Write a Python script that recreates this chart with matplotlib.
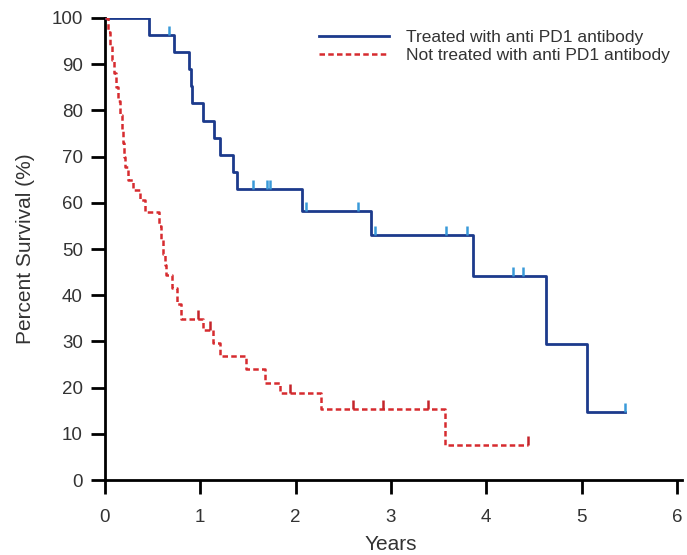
import numpy as np
import matplotlib.pyplot as plt

plt.rcParams['font.family'] = ['Liberation Sans', 'DejaVu Sans']

# Kaplan-Meier steps (years, survival % after the drop)
treated_t = [0, 0.46, 0.72, 0.88, 0.90, 0.91, 1.03, 1.14, 1.21, 1.34, 1.38,
             2.07, 2.79, 3.86, 4.63, 5.06, 5.45]
treated_s = [100, 96.3, 92.6, 88.9, 85.2, 81.5, 77.8, 74.1, 70.4, 66.7, 63.0,
             58.3, 53.0, 44.2, 29.4, 14.7, 14.7]
treated_cens = [0.67, 1.55, 1.70, 1.73, 2.11, 2.65, 2.83, 3.58, 3.80, 4.28, 4.38, 5.45]

untreated_t = [0, 0.03, 0.05, 0.07, 0.09, 0.12, 0.14, 0.16, 0.18, 0.19, 0.20,
               0.21, 0.24, 0.29, 0.37, 0.42, 0.57, 0.59, 0.61, 0.63, 0.64,
               0.70, 0.76, 0.80, 1.03, 1.13, 1.21, 1.48, 1.68, 1.84, 2.27,
               3.57, 4.44]
untreated_s = [100, 97, 94, 91, 88, 85, 82, 79, 76, 73, 70,
               67.8, 65.0, 62.8, 60.6, 58.0, 55.0, 52.0, 49.0, 46.5, 44.4,
               41.6, 38.2, 34.8, 32.5, 29.6, 26.8, 24.0, 21.1, 18.8, 15.4,
               7.6, 7.6]
untreated_cens = [0.98, 1.10, 1.94, 2.60, 2.92, 3.39, 4.44]

labels = ['Treated with anti PD1 antibody', 'Not treated with anti PD1 antibody']
x_ticks = [0, 1, 2, 3, 4, 5, 6]
y_ticks = [0, 10, 20, 30, 40, 50, 60, 70, 80, 90, 100]


def censor_heights(t, s, cens):
    idx = np.searchsorted(t, cens, side='right') - 1
    return np.asarray(s)[idx]


fig = plt.figure(figsize=(6.87, 5.55), dpi=100)
ax = fig.add_axes([0.1528, 0.1351, 0.8326, 0.8325])

ax.step(treated_t, treated_s, where='post', color='#1c3a8c', lw=2.0,
        label=labels[0], zorder=3)
ax.step(untreated_t, untreated_s, where='post', color='#d62b2f', lw=1.8,
        linestyle=(0, (2.2, 1.3)), label=labels[1], zorder=3)

# censor ticks
h = censor_heights(treated_t, treated_s, treated_cens)
ax.vlines(treated_cens, h, h + 1.9, color='#3a9ad9', lw=1.8, zorder=4)
h = censor_heights(untreated_t, untreated_s, untreated_cens)
ax.vlines(untreated_cens, h, h + 1.9, color='#c4242a', lw=1.8, zorder=4)

ax.set_xlim(0, 6)
ax.set_ylim(0, 100)
ax.set_xticks(x_ticks)
ax.set_yticks(y_ticks)
for sp in ['top', 'right']:
    ax.spines[sp].set_visible(False)
for sp in ['left', 'bottom']:
    ax.spines[sp].set_linewidth(2)
ax.spines['bottom'].set_bounds(0, 6.05)
ax.tick_params(direction='out', length=10, width=2, labelsize=13.5,
               labelcolor='#333333')
ax.tick_params(axis='x', pad=11)
ax.tick_params(axis='y', pad=6)
ax.set_xlabel('Years', fontsize=15, color='#333333', labelpad=6)
ax.set_ylabel('Percent Survival (%)', fontsize=15, color='#333333', labelpad=12)

leg = ax.legend(loc='upper right', bbox_to_anchor=(1.0, 0.99), frameon=False,
                fontsize=12.5, handlelength=4.0, handletextpad=1.0,
                labelspacing=0.2, borderaxespad=0)
for txt in leg.get_texts():
    txt.set_color('#333333')

fig.savefig('out.png', dpi=100)
